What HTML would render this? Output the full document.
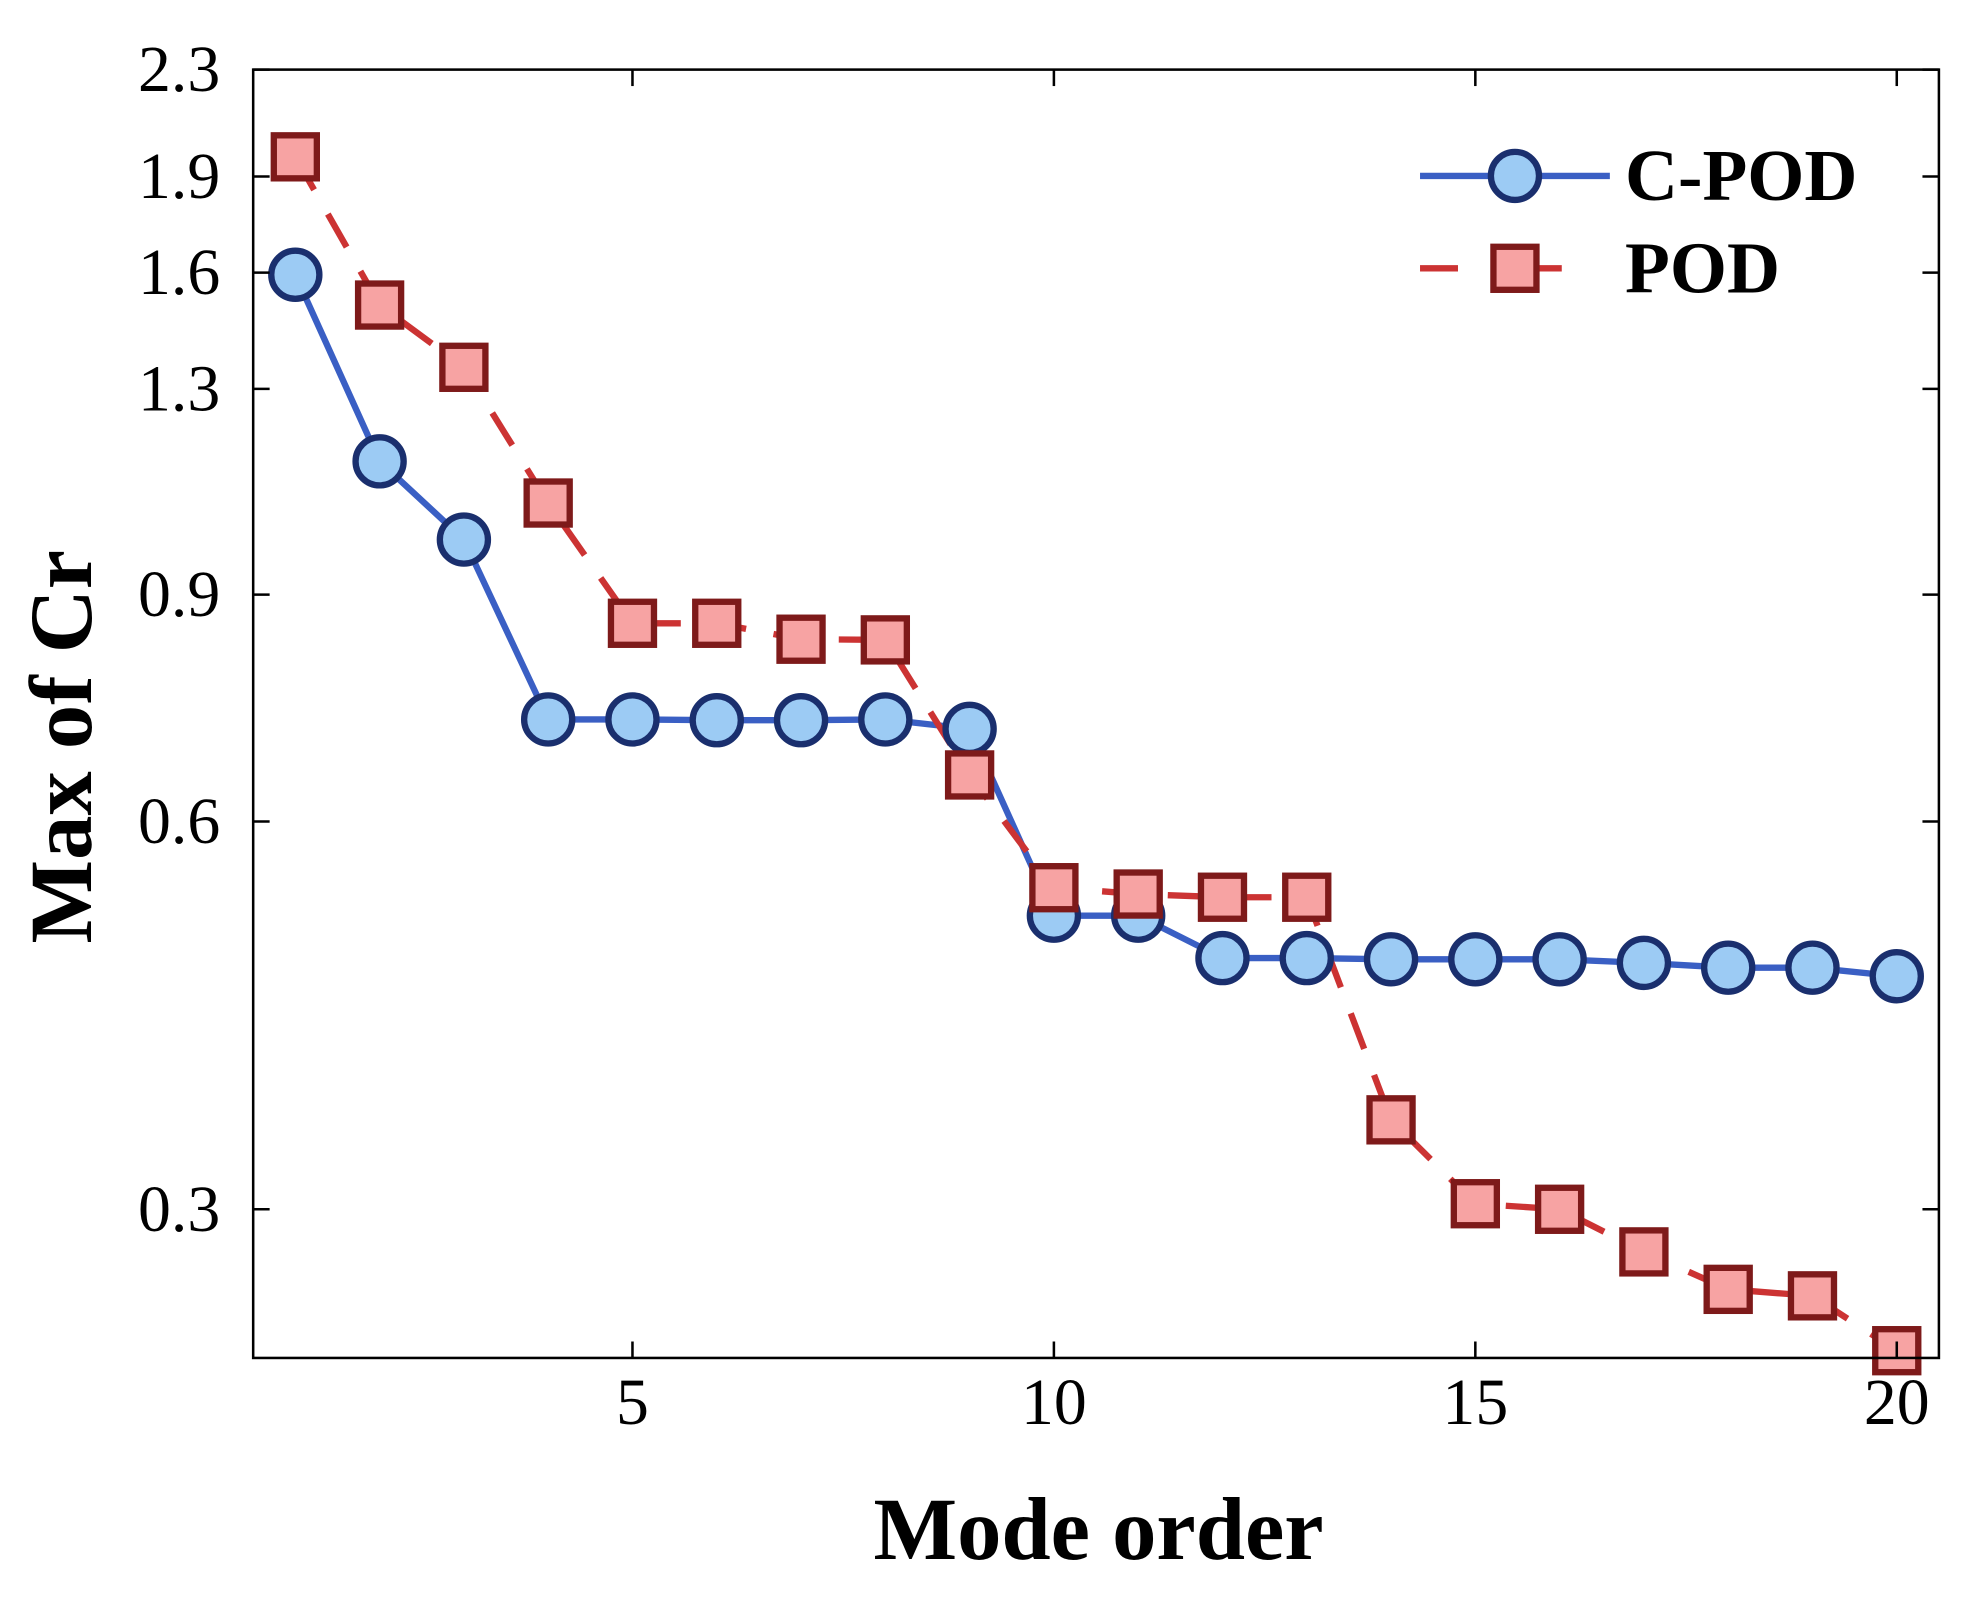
<!DOCTYPE html>
<html><head><meta charset="utf-8"><style>
html,body{margin:0;padding:0;background:#fff;}
svg{display:block;}
</style></head><body>
<svg id="chart" width="1982" height="1606" viewBox="0 0 1566 1269" xmlns="http://www.w3.org/2000/svg" font-family="'Liberation Serif', serif">
<rect x="0" y="0" width="1566" height="1269" fill="#fff"/>
<g id="lines"></g>
<g id="marks"></g>
<rect x="200" y="55" width="1332" height="1018" fill="none" stroke="#000" stroke-width="2"/>
<g id="ticks"></g>
<text x="868" y="1232" font-size="70" font-weight="bold" text-anchor="middle">Mode order</text>
<text transform="translate(72,590) rotate(-90)" font-size="70" font-weight="bold" text-anchor="middle">Max of Cr</text>
<g>
  <line x1="1122" y1="139" x2="1272" y2="139" stroke="#3a5fc4" stroke-width="5"/>
  <circle cx="1197" cy="139" r="19" fill="#9ccbf4" stroke="#1a2f6e" stroke-width="5"/>
  <text x="1284" y="158" font-size="58" font-weight="bold">C-POD</text>
  <line x1="1122" y1="212" x2="1272" y2="212" stroke="#cc3333" stroke-width="5" stroke-dasharray="30,52"/>
  <rect x="1180" y="195" width="34" height="34" fill="#f7a3a3" stroke="#7e1a1a" stroke-width="5"/>
  <text x="1284" y="231" font-size="58" font-weight="bold">POD</text>
</g>
</svg>
<script>
const modes = [1,2,3,4,5,6,7,8,9,10,11,12,13,14,15,16,17,18,19,20];
const cpodValues = [1.594,1.142,0.993,0.720,0.720,0.719,0.719,0.720,0.708,0.507,0.507,0.470,0.470,0.469,0.469,0.469,0.466,0.462,0.462,0.455];
const podValues = [1.968,1.51,1.351,1.06,0.855,0.855,0.831,0.830,0.652,0.533,0.527,0.524,0.524,0.352,0.303,0.300,0.278,0.260,0.257,0.233];
const xTicks = [5,10,15,20];
const yTicks = [0.3,0.6,0.9,1.3,1.6,1.9,2.3];
const yTickLabels = ["0.3","0.6","0.9","1.3","1.6","1.9","2.3"];

const L=200,R=1532,T=55,B=1073,XMIN=0.5,XMAX=20.5,YMIN=0.23,YMAX=2.3;
const NS="http://www.w3.org/2000/svg";
function xs(v){return L+(v-XMIN)/(XMAX-XMIN)*(R-L);}
function ys(v){return B-(Math.log(v)-Math.log(YMIN))/(Math.log(YMAX)-Math.log(YMIN))*(B-T);}
function mk(tag,attrs){const e=document.createElementNS(NS,tag);for(const k in attrs)e.setAttribute(k,attrs[k]);return e;}
const ticks=document.getElementById('ticks'),lines=document.getElementById('lines'),marks=document.getElementById('marks');
xTicks.forEach(t=>{
  const x=xs(t);
  const a=mk('line',{x1:x,y1:B,x2:x,y2:B-13,stroke:'#000','stroke-width':2});
  
  
  ticks.appendChild(a);
  const b=mk('line',{x1:x,y1:T,x2:x,y2:T+13,stroke:'#000','stroke-width':2});
  
  
  ticks.appendChild(b);
  const tx=mk('text',{x:x,y:B+52,'font-size':52,'text-anchor':'middle'});
  tx.textContent=t;
  
  
  ticks.appendChild(tx);
});
yTicks.forEach((t,i)=>{
  const y=ys(t);
  const a=mk('line',{x1:L,y1:y,x2:L+13,y2:y,stroke:'#000','stroke-width':2});
  
  
  ticks.appendChild(a);
  const b=mk('line',{x1:R,y1:y,x2:R-13,y2:y,stroke:'#000','stroke-width':2});
  
  
  ticks.appendChild(b);
  const tx=mk('text',{x:L-26,y:y+17,'font-size':52,'text-anchor':'end'});
  tx.textContent=yTickLabels[i];
  
  
  ticks.appendChild(tx);
});
const podPts=modes.map((m,i)=>xs(m)+','+ys(podValues[i])).join(' ');
const cpodPts=modes.map((m,i)=>xs(m)+','+ys(cpodValues[i])).join(' ');
const pl=mk('polyline',{points:cpodPts,fill:'none',stroke:'#3a5fc4','stroke-width':5,'stroke-linejoin':'round'});


lines.appendChild(pl);
const pp=mk('polyline',{points:podPts,fill:'none',stroke:'#cc3333','stroke-width':5,'stroke-dasharray':'30,22'});


lines.appendChild(pp);
modes.forEach((m,i)=>{
  const c=mk('circle',{cx:xs(m),cy:ys(cpodValues[i]),r:19,fill:'#9ccbf4',stroke:'#1a2f6e','stroke-width':5});
  
  
  marks.appendChild(c);
});
modes.forEach((m,i)=>{
  const s=mk('rect',{x:xs(m)-17,y:ys(podValues[i])-17,width:34,height:34,fill:'#f7a3a3',stroke:'#7e1a1a','stroke-width':5});
  
  
  marks.appendChild(s);
});
</script>
</body></html>
